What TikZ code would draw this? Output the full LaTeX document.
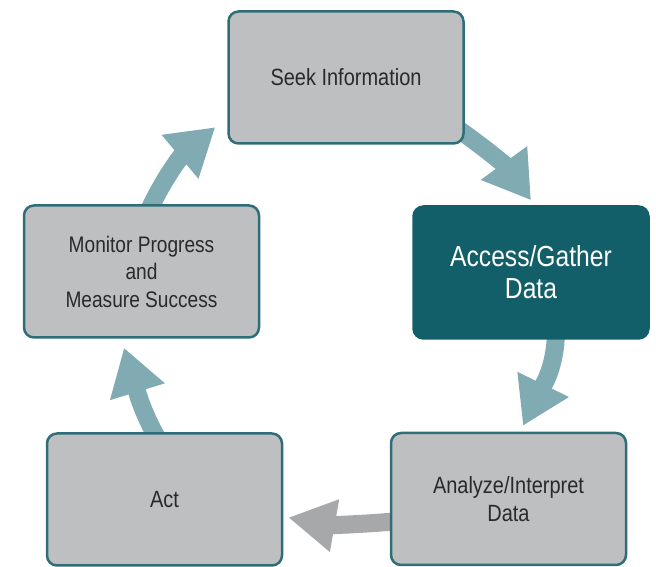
\documentclass[tikz,border=0pt]{standalone}
\usepackage{fontspec}
\newfontfamily\boxfont{Liberation Sans}[FakeStretch=0.85]
\usetikzlibrary{arrows.meta,backgrounds}

\definecolor{boxgray}{HTML}{BEBFC1}
\definecolor{boxedge}{HTML}{2F6E78}
\definecolor{darkteal}{HTML}{135F69}
\definecolor{flowteal}{HTML}{80ABB3}
\definecolor{flowgray}{HTML}{A7A8AA}
\definecolor{textgray}{HTML}{2A2A2A}

\tikzset{
	stage/.style={draw=boxedge, fill=boxgray, line width=2.5pt, rounded corners=10pt,
		minimum width=235pt, minimum height=132pt, align=center, text=textgray,
		font=\boxfont\fontsize{23.5}{28}\selectfont},
	keystage/.style={stage, draw=darkteal, fill=darkteal, text=white,
		font=\boxfont\fontsize{29}{32}\selectfont},
	flow/.style={draw=flowteal, line width=18pt, -{Triangle[length=46pt,width=54pt]}},
	backflow/.style={flow, draw=flowgray, -{Triangle[length=47pt,width=50pt]}}
}

\begin{document}
\begin{tikzpicture}[x=1pt,y=1pt]
			%%%%% START %%%%%
			
			\useasboundingbox (0,0) rectangle (656,567);
			
			\node[stage] (seek) at (346,489.5) {Seek Information};
			\node[keystage] (access) at (531,294.5) {Access/Gather\\Data};
			\node[stage] (analyze) at (508.5,68) {Analyze/Interpret\\Data};
			\node[stage] (act) at (164.5,67.5) {Act};
			\node[stage, font=\boxfont\fontsize{22.5}{27.5}\selectfont] (monitor) at (141.5,295.5) {Monitor Progress\\and\\Measure Success};
			
			\begin{scope}[on background layer]
			\draw[flow] ([shift={(-10,18)}]seek.south east) to[out=-35,in=126] ([yshift=5]access.north);
			\draw[flow] ([shift={(25,10)}]access.south) to[out=-90,in=64] ([shift={(14.5,6)}]analyze.north);
			\draw[backflow] ([shift={(10,-22)}]analyze.west) to[out=185,in=-10] ([shift={(5,-18)}]act.east);
			\draw[flow] ([shift={(-5,-10)}]act.north) to[out=120,in=-73] ([shift={(-17.5,-9)}]monitor.south);
			\draw[flow] ([shift={(5.5,-10)}]monitor.north) to[out=65,in=220] ([shift={(-12,17.5)}]seek.south west);
			\end{scope}
			
			%%%%% END %%%%%
\end{tikzpicture}
\end{document}
